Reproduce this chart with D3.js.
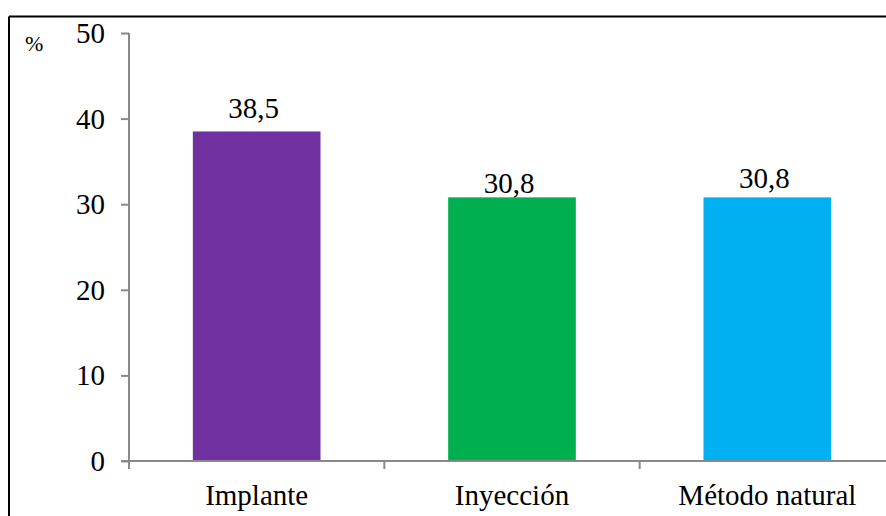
<!DOCTYPE html>
<html>
<head>
  <meta charset="UTF-8">
  <title>Bar Chart</title>
  <script src="https://d3js.org/d3.v7.min.js"></script>
</head>
<body style="margin:0">
<script>
  // data
  var categories = ["Implante", "Inyección", "Método natural"];
  var values = [38.5, 30.8, 30.8];
  var labels = ["38,5", "30,8", "30,8"];
  var colors = ["#7030a0", "#00b050", "#00b0f0"];
  var yTicks = [0, 10, 20, 30, 40, 50];

  let width = 886;
  let height = 516;
  let font = "Liberation Serif";
  let svg = d3.select("body").append("svg").attr("width", width).attr("height", height).style("display", "block");

  // outer frame (top + left)
  svg.append("line").attr("x1", 9).attr("y1", 16.5).attr("x2", width).attr("y2", 16.5).style("stroke", "#000").style("stroke-width", 2);
  svg.append("line").attr("x1", 9).attr("y1", 16.5).attr("x2", 9).attr("y2", height).style("stroke", "#000").style("stroke-width", 2);

  let plotL = 129, plotR = 895, plotT = 33, plotB = 461;

  let x = d3.scaleBand().domain(categories).range([plotL, plotR]).paddingInner(0.5).paddingOuter(0.25);
  let y = d3.scaleLinear().domain([0, 50]).range([plotB, plotT]);

  // bars
  svg.selectAll("rect.bar").data(values).enter().append("rect")
    .attr("class", "bar")
    .attr("x", (d, i) => x(categories[i]))
    .attr("width", x.bandwidth())
    .attr("y", d => y(d))
    .attr("height", d => y(0) - y(d))
    .attr("fill", (d, i) => colors[i]);

  // y axis
  let yAxis = svg.append("g").attr("transform", "translate(" + plotL + ",0)")
    .call(d3.axisLeft(y).tickValues(yTicks).tickSize(8).tickPadding(16));
  yAxis.select(".domain").attr("d", "M0," + plotT + "V" + plotB);

  // x axis
  let xAxis = svg.append("g").attr("transform", "translate(0," + plotB + ")")
    .call(d3.axisBottom(x).tickSize(0).tickPadding(23));
  xAxis.select(".domain").attr("d", "M" + (plotL - 8) + ",0H" + width);
  // boundary ticks between categories
  let bounds = [plotL, plotL + (plotR - plotL) / 3, plotL + 2 * (plotR - plotL) / 3];
  xAxis.selectAll("line.sep").data(bounds).enter().append("line")
    .attr("class", "sep").attr("x1", d => d).attr("x2", d => d).attr("y1", 0).attr("y2", 8);

  yAxis.attr("font-family", font).attr("font-size", 29);
  xAxis.attr("font-family", font).attr("font-size", 29);
  svg.selectAll(".tick text").attr("fill", "#000");
  yAxis.selectAll(".tick text").attr("dy", "0.33em");
  xAxis.selectAll(".tick text").attr("dy", "0.71em");
  svg.selectAll(".domain, .tick line, line.sep").attr("stroke", "#898989").attr("stroke-width", 2);

  // % label
  svg.append("text").attr("x", 25).attr("y", 51).attr("font-family", font).attr("font-size", 22).text("%");

  // value labels
  var nudge = [0, 9, 4];
  svg.selectAll("text.val").data(values).enter().append("text")
    .attr("class", "val")
    .attr("x", (d, i) => x(categories[i]) + x.bandwidth() / 2 - 3)
    .attr("y", (d, i) => y(d) - 13 + nudge[i])
    .attr("text-anchor", "middle")
    .attr("font-family", font)
    .attr("font-size", 29)
    .text((d, i) => labels[i]);
</script>
</body>
</html>
